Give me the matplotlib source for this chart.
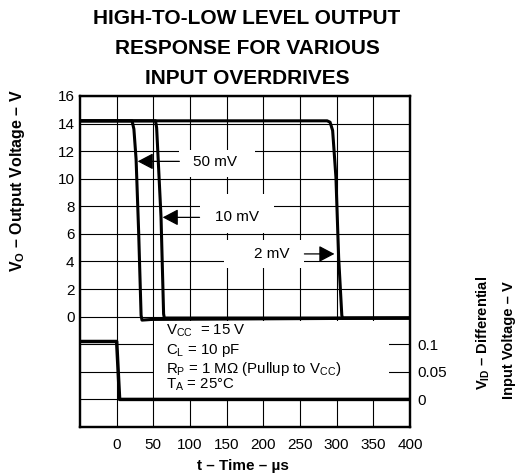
import matplotlib
matplotlib.use("Agg")
import matplotlib.pyplot as plt
from matplotlib.patches import Rectangle

plt.rcParams['font.family'] = ['Liberation Sans', 'DejaVu Sans']
plt.rcParams['mathtext.fontset'] = 'custom'
plt.rcParams['mathtext.rm'] = 'Liberation Sans'
plt.rcParams['mathtext.it'] = 'Liberation Sans:italic'
plt.rcParams['mathtext.bf'] = 'Liberation Sans:bold'

# ---- data ----
t_50mv = [-50, 21, 23.5, 26.5, 30, 33.3, 34.5, 48, 400]
v_50mv = [14.2, 14.2, 13.6, 11.4, 6.1, 0.1, -0.25, -0.2, -0.1]

t_10mv = [-50, 53, 54.5, 60.5, 64, 65, 400]
v_10mv = [14.2, 14.2, 13.7, 7.2, 0.2, -0.1, -0.1]

t_2mv = [-50, 287, 291, 294.5, 299, 302.7, 307, 308, 400]
v_2mv = [14.2, 14.2, 14.1, 13.5, 10.1, 4.3, 0.1, -0.1, -0.1]

t_input = [-50, 0, 4, 400]
v_input = [0.105, 0.105, 0.0, 0.0]

x_ticks = [0, 50, 100, 150, 200, 250, 300, 350, 400]
y_ticks_left = [0, 2, 4, 6, 8, 10, 12, 14, 16]
y_ticks_right = [0, 0.05, 0.1]
y_tick_right_labels = ['0', '0.05', '0.1']

W, H = 515, 475
fig = plt.figure(figsize=(W / 100, H / 100), dpi=100)
ax = fig.add_axes([80 / W, 1 - 427 / H, 330 / W, 331 / H])
ax.set_xlim(-50, 400)
ax.set_ylim(-8, 16)
ax.set_axisbelow(True)

# grid
ax.set_xticks(x_ticks)
ax.set_xticklabels([str(v) for v in x_ticks])
grid_y = list(range(-8, 17, 2))
ax.set_yticks(grid_y)
ax.set_yticklabels([str(v) if v in y_ticks_left else '' for v in grid_y])
ax.grid(True, color='black', lw=0.8)
ax.tick_params(axis='both', length=0, labelsize=11)
ax.tick_params(axis='y', pad=4)
ax.tick_params(axis='x', pad=8)
for s in ax.spines.values():
    s.set_linewidth(1.6)

ax2 = ax.twinx()
ax2.set_ylim(-0.05, 0.55)
ax2.set_yticks(y_ticks_right)
ax2.set_yticklabels(y_tick_right_labels)
ax2.tick_params(axis='y', length=0, labelsize=11, pad=5)
for s in ax2.spines.values():
    s.set_linewidth(1.6)

# white label boxes (hide grid)
boxes = [(85.5, 10.15, 102.5, 1.95), (113, 6.1, 102, 2.8), (146.5, 3.55, 109.5, 2.0), (51, -5.93, 321, 5.63)]
for (bx, by, bw, bh) in boxes:
    ax.add_patch(Rectangle((bx, by), bw, bh, facecolor='white', edgecolor='none', zorder=1))

# traces
lw = 2.2
ax.plot(t_50mv, v_50mv, color='black', lw=lw, zorder=4, solid_joinstyle='round')
ax.plot(t_10mv, v_10mv, color='black', lw=lw, zorder=4, solid_joinstyle='round')
ax.plot(t_2mv, v_2mv, color='black', lw=lw, zorder=4, solid_joinstyle='round')
ax2.plot(t_input, v_input, color='black', lw=2.5, zorder=4)

# labels with arrows
arrow_style = '-|>,head_length=0.95,head_width=0.5'
ap = dict(arrowstyle=arrow_style, lw=0.9, color='black', shrinkA=0, shrinkB=0, mutation_scale=10)
ax.text(134, 11.25, '50 mV', ha='center', va='center', fontsize=11, zorder=3)
ax.annotate('', xy=(28.6, 11.26), xytext=(85.5, 11.26), arrowprops=ap, zorder=5)
ax.text(164, 7.24, '10 mV', ha='center', va='center', fontsize=11, zorder=3)
ax.annotate('', xy=(62.7, 7.2), xytext=(113, 7.2), arrowprops=ap, zorder=5)
ax.text(211, 4.55, '2 mV', ha='center', va='center', fontsize=11, zorder=3)
ax.annotate('', xy=(297, 4.55), xytext=(256, 4.55), arrowprops=ap, zorder=5)

cond = [r'V$_\mathrm{CC}$  = 15 V', r'C$_\mathrm{L}$ = 10 pF',
        r'R$_\mathrm{P}$ = 1 M$\Omega$ (Pullup to V$_\mathrm{CC}$)', r'T$_\mathrm{A}$ = 25°C']
cy = [-1.05, -2.45, -3.8, -4.95]
for s, y in zip(cond, cy):
    ax.text(67, y, s, ha='left', va='center', fontsize=10.8, zorder=3)

# title and axis labels
fig.text(247 / W, 1 - 19 / H, 'HIGH-TO-LOW LEVEL OUTPUT', ha='center', va='center', fontsize=15, fontweight='bold')
fig.text(247 / W, 1 - 49 / H, 'RESPONSE FOR VARIOUS', ha='center', va='center', fontsize=15, fontweight='bold')
fig.text(247 / W, 1 - 78 / H, 'INPUT OVERDRIVES', ha='center', va='center', fontsize=15, fontweight='bold')

fig.text(18 / W, 1 - 181 / H, r'$\mathbf{V_O}$ – Output Voltage – V', rotation=90, ha='center', va='center',
         fontsize=11.5, fontweight='bold')
fig.text(483 / W, 1 - 333 / H, r'$\mathbf{V_{ID}}$ – Differential', rotation=90, ha='center', va='center',
         fontsize=10.5, fontweight='bold')
fig.text(509 / W, 1 - 340 / H, 'Input Voltage – V', rotation=90, ha='center', va='center',
         fontsize=10.5, fontweight='bold')
fig.text(243 / W, 1 - 466 / H, 't – Time – µs', ha='center', va='center', fontsize=11, fontweight='bold')

fig.savefig('out.png', dpi=100)
